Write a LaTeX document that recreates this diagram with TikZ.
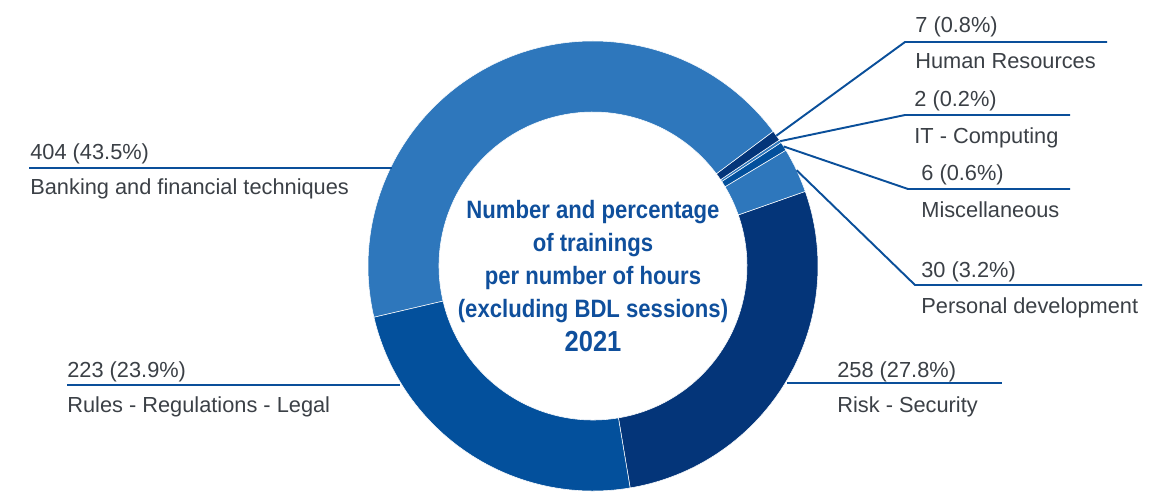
\documentclass[tikz,border=0pt]{standalone}
\usepackage{fontspec}
\setmainfont{Liberation Sans}
\newfontfamily\titlefont[FakeStretch=0.88]{Liberation Sans}
\usepackage{xcolor}
\usepackage{tikz}
\definecolor{lightseg}{HTML}{2E77BC}
\definecolor{midseg}{HTML}{03509C}
\definecolor{darkseg}{HTML}{043579}
\definecolor{leader}{HTML}{0A4F9A}
\definecolor{labelgray}{HTML}{3B4046}
\definecolor{titleblue}{HTML}{0F4F9C}

\begin{document}
\begin{tikzpicture}[x=0.02cm, y=0.02cm]
            \tikzset{lbl/.style={anchor=base west, inner sep=0pt, text=labelgray, font=\fontsize{12.4}{14}\selectfont},
                     lead/.style={draw=leader, line width=1.1pt}}
            \useasboundingbox (0,0) rectangle (1168,491);
            \coordinate (ctr) at (593,225);
            % ring segments: start angle / end angle / colour
            \foreach \a/\b/\c in {-80.5/19.37/darkseg, 19.37/30.98/lightseg, 30.98/33.30/midseg,
                                  33.30/34.07/lightseg, 34.07/36.78/darkseg, 36.78/193.17/lightseg,
                                  193.17/279.5/midseg}
                \filldraw [fill=\c, draw=white, line width=0.3pt] ([shift={(\a:225)}]ctr) arc [start angle=\a, end angle=\b, radius=225]
                    -- ([shift={(\b:154)}]ctr) arc [start angle=\b, end angle=\a, radius=154] -- cycle;
            \node (title) at (593,215) [align=center, text=titleblue, font=\titlefont\bfseries\fontsize{14.3}{18.8}\selectfont] {Number and percentage\\of trainings\\per number of hours\\(excluding BDL sessions)\\{\fontsize{16.5}{18.8}\selectfont 2021}};
            \node (n404) at (30,332) [lbl] {404 (43.5\%)};
            \node (bank) at (30,297) [lbl] {Banking and financial techniques};
            \node (n223) at (67,114) [lbl] {223 (23.9\%)};
            \node (rules) at (67,79) [lbl] {Rules - Regulations - Legal};
            \node (n258) at (837,114) [lbl] {258 (27.8\%)};
            \node (risk) at (837,79) [lbl] {Risk - Security};
            \node (n7) at (915,458) [lbl] {7 (0.8\%)};
            \node (hr) at (915,422) [lbl] {Human Resources};
            \node (n2) at (914,384) [lbl] {2 (0.2\%)};
            \node (it) at (914,348) [lbl] {IT - Computing};
            \node (n6) at (921,311) [lbl] {6 (0.6\%)};
            \node (misc) at (921,274) [lbl] {Miscellaneous};
            \node (n30) at (921,214) [lbl] {30 (3.2\%)};
            \node (pers) at (921,178) [lbl] {Personal development};
            \coordinate (bankL) at (29,323);
            \coordinate (bankR) at (392,323);
            \coordinate (rulesL) at (67,106);
            \coordinate (rulesR) at (400,106);
            \coordinate (riskL) at (787,108);
            \coordinate (riskR) at (1002,108);
            \coordinate (hrpt) at ([shift={(35.4:225)}]ctr);
            \coordinate (hrknee) at (905,449);
            \coordinate (hrend) at (1107,449);
            \coordinate (itpt) at ([shift={(33.7:225)}]ctr);
            \coordinate (itknee) at (905,376);
            \coordinate (itend) at (1070,376);
            \coordinate (miscpt) at ([shift={(32.1:225)}]ctr);
            \coordinate (miscknee) at (908,302);
            \coordinate (miscend) at (1070,302);
            \coordinate (perspt) at ([shift={(25.2:225)}]ctr);
            \coordinate (persknee) at (915,206);
            \coordinate (persend) at (1142,206);
            \draw [lead] (bankL) -- (bankR);
            \draw [lead] (rulesL) -- (rulesR);
            \draw [lead] (riskL) -- (riskR);
            \draw [lead] (hrpt) -- (hrknee) -- (hrend);
            \draw [lead] (itpt) -- (itknee) -- (itend);
            \draw [lead] (miscpt) -- (miscknee) -- (miscend);
            \draw [lead] (perspt) -- (persknee) -- (persend);
        \end{tikzpicture}
\end{document}
